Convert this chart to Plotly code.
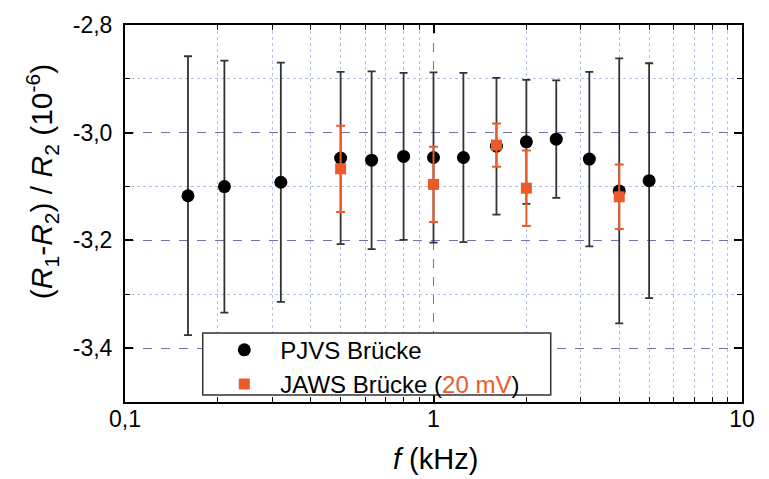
import plotly.graph_objects as go

# ---- data ----
f_pjvs = [0.16, 0.21, 0.32, 0.5, 0.63, 0.8, 1.0, 1.25, 1.6, 2.0, 2.5, 3.2, 4.0, 5.0]
y_pjvs = [-3.117, -3.100, -3.092, -3.047, -3.051, -3.044, -3.046, -3.046, -3.025, -3.017, -3.012, -3.049, -3.108, -3.089]
e_pjvs = [0.259, 0.234, 0.222, 0.160, 0.165, 0.155, 0.158, 0.157, 0.127, 0.115, 0.109, 0.162, 0.246, 0.218]

f_jaws = [0.5, 1.0, 1.6, 2.0, 4.0]
y_jaws = [-3.067, -3.096, -3.023, -3.103, -3.119]
e_jaws = [0.080, 0.070, 0.040, 0.070, 0.060]

x_tickvals = [0.1, 1, 10]
x_ticktext = ["0,1", "1", "10"]
x_minor = [0.2, 0.3, 0.4, 0.5, 0.6, 0.7, 0.8, 0.9, 2, 3, 4, 5, 6, 7, 8, 9]
y_tickvals = [-2.8, -3.0, -3.2, -3.4]
y_ticktext = ["-2,8", "-3,0", "-3,2", "-3,4"]
y_minor = [-2.9, -3.1, -3.3]

ORANGE = "#eb5a28"
FONT = "Liberation Sans, Arial, sans-serif"

fig = go.Figure()
fig.add_trace(go.Scatter(
    x=f_pjvs, y=y_pjvs, mode="markers", name="PJVS Brücke",
    marker=dict(symbol="circle", size=13, color="black"),
    error_y=dict(type="data", array=e_pjvs, visible=True,
                 color="#333333", thickness=1.8, width=4),
))
fig.add_trace(go.Scatter(
    x=f_jaws, y=y_jaws, mode="markers",
    name='JAWS Brücke (<span style="color:%s">20 mV</span>)' % ORANGE,
    marker=dict(symbol="square", size=11, color=ORANGE),
    error_y=dict(type="data", array=e_jaws, visible=True,
                 color=ORANGE, thickness=2, width=4.5),
))

axis_common = dict(
    showline=True, linecolor="black", linewidth=2, mirror="allticks",
    ticks="inside", ticklen=8, tickwidth=1.5, tickcolor="black",
    showgrid=True, gridcolor="#7b6cae", gridwidth=1.3, griddash="dash",
    zeroline=False,
    tickfont=dict(family=FONT, size=23, color="black"),
)

fig.update_xaxes(
    type="log", range=[-1, 1],
    tickmode="array", tickvals=x_tickvals, ticktext=x_ticktext,
    ticklabelstandoff=-5,
    minor=dict(tickmode="array", tickvals=x_minor, ticks="inside", ticklen=5,
               tickwidth=1.3, tickcolor="black",
               showgrid=True, gridcolor="#a9c3ea", gridwidth=1, griddash="dot"),
    **axis_common,
)
fig.update_yaxes(
    range=[-3.5, -2.8],
    tickmode="array", tickvals=y_tickvals, ticktext=y_ticktext,
    ticklabelstandoff=6,
    minor=dict(tickmode="array", tickvals=y_minor, ticks="inside", ticklen=5,
               tickwidth=1.3, tickcolor="black",
               showgrid=True, gridcolor="#a9c3ea", gridwidth=1, griddash="dot"),
    **axis_common,
)

fig.add_annotation(
    xref="paper", yref="paper", x=-0.1345, y=0.583,
    text="(<i>R</i><sub>1</sub>-<i>R</i><sub>2</sub>) / <i>R</i><sub>2</sub> (10<sup>-6</sup>)",
    textangle=-90, showarrow=False, xanchor="center", yanchor="middle",
    font=dict(family=FONT, size=30, color="black"),
)
fig.add_annotation(
    xref="paper", yref="paper", x=0.504, y=-0.152,
    text="<i>f</i> (kHz)", showarrow=False, xanchor="center", yanchor="middle",
    font=dict(family=FONT, size=29, color="black"),
)

# legend frame (white box with dark border)
fig.add_shape(
    type="rect", xref="paper", yref="paper",
    x0=0.126, x1=0.690, y0=0.0184, y1=0.183,
    fillcolor="white", line=dict(color="#333333", width=1.5), layer="above",
)

fig.update_layout(
    width=769, height=479,
    margin=dict(l=125, r=27, t=21, b=77),
    paper_bgcolor="white", plot_bgcolor="white",
    showlegend=True,
    legend=dict(
        x=0.135, y=0.197, xanchor="left", yanchor="top",
        bgcolor="rgba(0,0,0,0)", borderwidth=0,
        font=dict(family=FONT, size=24, color="black"),
        itemwidth=62, tracegroupgap=0,
    ),
)

fig.write_html("out.html")
